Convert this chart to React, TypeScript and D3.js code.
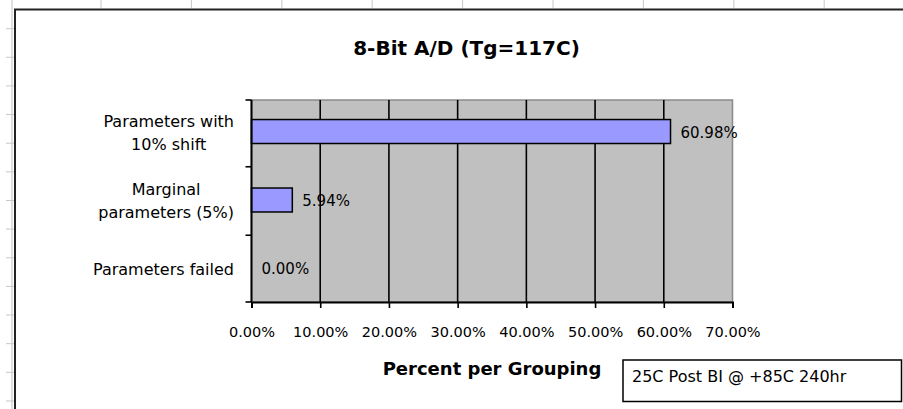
import { useEffect, useRef } from 'react';
import * as d3 from 'd3';

// chart values
const categories = ['Parameters with\n10% shift', 'Marginal\nparameters (5%)', 'Parameters failed'];
const percents = [0.6098, 0.0594, 0.0];
const xTicks = [0, 0.1, 0.2, 0.3, 0.4, 0.5, 0.6, 0.7];
const chartTitle = '8-Bit A/D (Tg=117C)';
const axisTitle = 'Percent per Grouping';
const noteText = '25C Post BI @ +85C 240hr';

const W = 903;
const H = 409;
const FONT = '"DejaVu Sans", Verdana, sans-serif';

const App = () => {
  const ref = useRef<SVGSVGElement>(null);

  useEffect(() => {
    const svg = d3.select(ref.current);
    svg.selectAll('*').remove();

    const plot = { left: 251.5, right: 732.5, top: 100, bottom: 302 };

    // spreadsheet backdrop: column / row marks behind the chart object
    const bg = svg.append('g');
    bg.append('line')
      .attr('x1', 12).attr('x2', 12).attr('y1', 0).attr('y2', H)
      .attr('stroke', '#d4d4d4').attr('stroke-width', 1.5);
    bg.selectAll('.colmark')
      .data(d3.range(101, W, 90.4))
      .enter().append('line')
      .attr('x1', (d) => d).attr('x2', (d) => d)
      .attr('y1', 0).attr('y2', 8)
      .attr('stroke', '#c8c8c8');
    bg.selectAll('.rowmark')
      .data(d3.range(28.64, H, 28.64))
      .enter().append('line')
      .attr('x1', 6).attr('x2', 15)
      .attr('y1', (d) => d).attr('y2', (d) => d)
      .attr('stroke', '#c8c8c8');

    // chart object
    svg.append('rect')
      .attr('x', 15).attr('y', 9.5)
      .attr('width', W + 20).attr('height', H + 20)
      .attr('fill', '#fff')
      .attr('stroke', '#222').attr('stroke-width', 2);

    const x = d3.scaleLinear().domain([0, 0.7]).range([plot.left, plot.right]);
    const y = d3.scaleBand<string>()
      .domain(categories)
      .range([plot.top, plot.bottom])
      .paddingInner(0.65)
      .paddingOuter(0.3);

    // plot area
    svg.append('rect')
      .attr('x', plot.left).attr('y', plot.top)
      .attr('width', plot.right - plot.left)
      .attr('height', plot.bottom - plot.top)
      .attr('fill', '#c0c0c0')
      .attr('stroke', '#8a8a8a').attr('stroke-width', 1.5);

    svg.selectAll('.grid')
      .data(xTicks.slice(1, -1))
      .enter().append('line')
      .attr('x1', (d) => x(d)).attr('x2', (d) => x(d))
      .attr('y1', plot.top).attr('y2', plot.bottom)
      .attr('stroke', '#000').attr('stroke-width', 1.6);

    // bars
    svg.selectAll('.bar')
      .data(percents)
      .enter().append('rect')
      .attr('x', x(0))
      .attr('y', (_, i) => (y(categories[i]) || 0) - 1)
      .attr('width', (d) => x(d) - x(0))
      .attr('height', y.bandwidth())
      .attr('fill', '#9999ff')
      .attr('stroke', '#000')
      .attr('stroke-width', 1.5)
      .attr('display', (d) => (d > 0 ? null : 'none'));

    // value labels
    svg.selectAll('.val')
      .data(percents)
      .enter().append('text')
      .attr('x', (d) => x(d) + 10)
      .attr('y', (_, i) => (y(categories[i]) || 0) + y.bandwidth() / 2 + 5)
      .attr('font-family', FONT).attr('font-size', 15)
      .attr('fill', '#000')
      .text((d) => (d * 100).toFixed(2) + '%');

    // x axis
    const xAxis = svg.append('g')
      .attr('transform', 'translate(0,' + plot.bottom + ')')
      .call(
        d3.axisBottom(x)
          .tickValues(xTicks)
          .tickSize(6)
          .tickPadding(19)
          .tickFormat((d) => (Number(d) * 100).toFixed(2) + '%')
      );
    xAxis.select('.domain').attr('stroke', '#000').attr('stroke-width', 2);
    xAxis.selectAll('.tick line').attr('stroke', '#000').attr('stroke-width', 1.6);
    xAxis.selectAll('.tick text')
      .attr('font-family', FONT).attr('font-size', 14.5).attr('fill', '#000');

    // y axis line + boundary ticks
    const bounds = categories.map((c) => (y(c) || 0) - (y.step() * y.paddingInner()) / 2);
    bounds[0] = plot.top;
    bounds.push(plot.bottom);
    svg.append('line')
      .attr('x1', plot.left).attr('x2', plot.left)
      .attr('y1', plot.top).attr('y2', plot.bottom)
      .attr('stroke', '#000').attr('stroke-width', 2);
    svg.selectAll('.ytick')
      .data(bounds)
      .enter().append('line')
      .attr('x1', plot.left - 6).attr('x2', plot.left)
      .attr('y1', (d) => d).attr('y2', (d) => d)
      .attr('stroke', '#000').attr('stroke-width', 1.6);

    // category labels: block right-aligned, lines centered within block
    const lineH = 23;
    const blockRight = 234;
    categories.forEach((c) => {
      const lines = c.split('\n');
      const cy = (y(c) || 0) + y.bandwidth() / 2;
      const g = svg.append('g');
      const texts = lines.map((ln, j) =>
        g.append('text')
          .attr('y', cy + (j - (lines.length - 1) / 2) * lineH + 5.5)
          .attr('font-family', FONT).attr('font-size', 16)
          .attr('text-anchor', 'middle')
          .attr('fill', '#000')
          .text(ln)
      );
      const widths = texts.map((t) => (t.node() as SVGTextElement).getComputedTextLength());
      const bw = d3.max(widths) || 0;
      texts.forEach((t) => t.attr('x', blockRight - bw / 2));
    });

    // titles
    svg.append('text')
      .attr('x', 466.5).attr('y', 55)
      .attr('text-anchor', 'middle')
      .attr('font-family', FONT).attr('font-size', 20).attr('font-weight', 'bold')
      .text(chartTitle);

    svg.append('text')
      .attr('x', (plot.left + plot.right) / 2).attr('y', 375)
      .attr('text-anchor', 'middle')
      .attr('font-family', FONT).attr('font-size', 18).attr('font-weight', 'bold')
      .text(axisTitle);

    // note box
    svg.append('rect')
      .attr('x', 623).attr('y', 360)
      .attr('width', 278.5).attr('height', 41.5)
      .attr('fill', '#fff')
      .attr('stroke', '#000').attr('stroke-width', 1.5);
    svg.append('text')
      .attr('x', 632).attr('y', 382)
      .attr('font-family', FONT).attr('font-size', 16)
      .text(noteText);
  }, []);

  return (
    <svg
      ref={ref}
      width={W}
      height={H}
      style={{ position: 'absolute', left: 0, top: 0, background: '#fff' }}
    />
  );
};

export default App;
